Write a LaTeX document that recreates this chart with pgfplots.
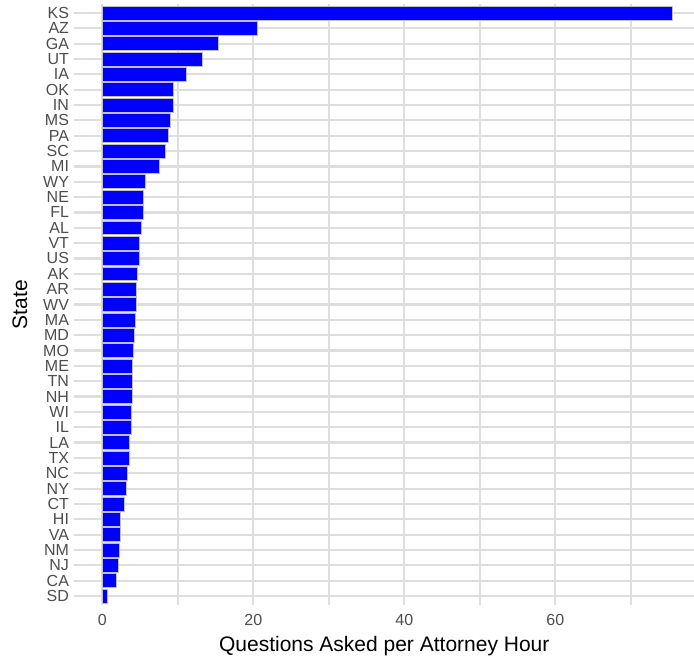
\documentclass[border=0pt]{standalone}
\usepackage{fontspec}
\setmainfont{Liberation Sans}
\usepackage{pgfplots}
\pgfplotsset{compat=1.18}
\usetikzlibrary{calc}
\definecolor{gridc}{HTML}{DEDEDE}
\definecolor{tickc}{HTML}{4D4D4D}

\begin{document}
\begin{tikzpicture}
\begin{axis}[
    scale only axis,
    width=619.5pt,
    height=601.4pt,
    xbar,
    bar width=0.91,
    xmin=-3.68, xmax=78.37,
    ymin=-0.6, ymax=38.6,
    y dir=reverse,
    axis line style={draw=none},
    ytick={0,...,38},
    yticklabels={KS,AZ,GA,UT,IA,OK,IN,MS,PA,SC,MI,WY,NE,FL,AL,VT,US,AK,AR,WV,MA,MD,MO,ME,TN,NH,WI,IL,LA,TX,NC,NY,CT,HI,VA,NM,NJ,CA,SD},
    xtick={0,20,40,60},
    minor xtick={10,30,50,70},
    xmajorgrids, xminorgrids, ymajorgrids,
    major grid style={gridc, line width=2.2pt},
    minor grid style={gridc, line width=1.8pt},
    major tick length=0pt,
    minor tick length=0pt,
    tick label style={font=\fontsize{16}{16}\selectfont, text=tickc},
    /pgf/number format/assume math mode=true,
    yticklabel style={xshift=-2pt},
    xticklabel style={yshift=-5.7pt},
    xlabel={Questions Asked per Attorney Hour},
    ylabel={State},
    label style={font=\fontsize{21}{21}\selectfont},
    xlabel style={at={(axis description cs:0.5,0)}, anchor=base, yshift=-46.7pt},
    ylabel style={at={(axis description cs:0,0.5)}, anchor=center, yshift=54.5pt},
    clip=false,
]
\addplot[fill=blue, draw=gray!50, line width=0.6pt] coordinates {
    (75.5,0) (20.5,1) (15.3,2) (13.2,3) (11.1,4) (9.47,5) (9.34,6)
    (9.03,7) (8.8,8) (8.3,9) (7.57,10) (5.75,11) (5.44,12) (5.4,13)
    (5.18,14) (4.96,15) (4.87,16) (4.69,17) (4.56,18) (4.56,19)
    (4.34,20) (4.25,21) (4.16,22) (4.03,23) (3.98,24) (3.94,25)
    (3.89,26) (3.81,27) (3.54,28) (3.54,29) (3.32,30) (3.19,31)
    (2.92,32) (2.43,33) (2.35,34) (2.21,35) (2.12,36) (1.81,37) (0.66,38)
};
\end{axis}
\pgfresetboundingbox
\path ($(current axis.south west)+(-74.5pt,-53pt)$) rectangle ($(current axis.north east)+(0pt,3.8pt)$);
\end{tikzpicture}
\end{document}
